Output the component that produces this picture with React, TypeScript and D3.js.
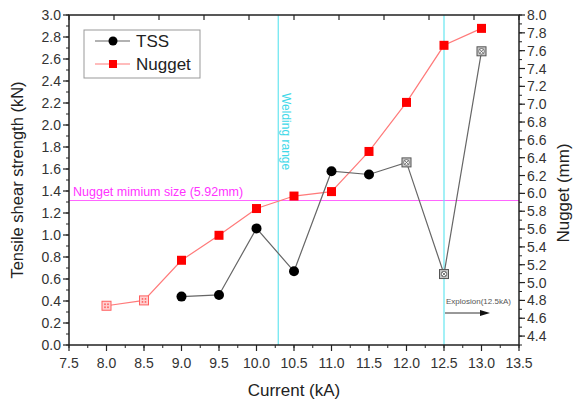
import React from "react";
import * as d3 from "d3";

const currents = [8.0, 8.5, 9.0, 9.5, 10.0, 10.5, 11.0, 11.5, 12.0, 12.5, 13.0];
const nugget = [4.74, 4.8, 5.25, 5.53, 5.83, 5.97, 6.02, 6.47, 7.02, 7.66, 7.85];
const nuggetHatched = [true, true, false, false, false, false, false, false, false, false, false];
const tssCurrents = [9.0, 9.5, 10.0, 10.5, 11.0, 11.5, 12.0, 12.5, 13.0];
const tss = [0.44, 0.455, 1.06, 0.67, 1.58, 1.55, 1.66, 0.645, 2.67];
const tssCrossed = [false, false, false, false, false, false, true, true, true];
const xTicks = [7.5, 8.0, 8.5, 9.0, 9.5, 10.0, 10.5, 11.0, 11.5, 12.0, 12.5, 13.0, 13.5];
const leftTicks = [0, 0.2, 0.4, 0.6, 0.8, 1.0, 1.2, 1.4, 1.6, 1.8, 2.0, 2.2, 2.4, 2.6, 2.8, 3.0];
const rightTicks = [4.4, 4.6, 4.8, 5.0, 5.2, 5.4, 5.6, 5.8, 6.0, 6.2, 6.4, 6.6, 6.8, 7.0, 7.2, 7.4, 7.6, 7.8, 8.0];
const nuggetMin = 5.92;
const weldingStart = 10.29;
const explosion = 12.5;

const L = 69, R = 519, T = 15, B = 345;

export default function App() {
  const x = d3.scaleLinear().domain([7.5, 13.5]).range([L, R]);
  const yL = d3.scaleLinear().domain([0, 3.0]).range([B, T]);
  const yR = d3.scaleLinear().domain([4.3, 8.0]).range([B, T]);
  const font = "'Liberation Sans', Arial, sans-serif";
  const tickCol = "#333";

  const xMinor = d3.range(7.5, 13.5001, 0.25);
  const lMinor = d3.range(0, 3.0001, 0.1);
  const rMinor = d3.range(4.3, 8.0001, 0.1);
  const topTicks = d3.range(0, 11).map((i) => 7.5 + i * 0.6);

  const tssLine = d3.line<number>().x((_, i) => x(tssCurrents[i])).y((d) => yL(d));
  const nugLine = d3.line<number>().x((_, i) => x(currents[i])).y((d) => yR(d));

  return (
    <svg width={573} height={403} style={{ position: "absolute", left: 0, top: 0, background: "#fff" }} fontFamily={font}>
      <rect x={0} y={0} width={573} height={403} fill="#fff" />
      {/* reference lines */}
      <line x1={L} x2={R} y1={yR(nuggetMin)} y2={yR(nuggetMin)} stroke="#ff66ff" strokeWidth={1.2} />
      <text x={L + 4} y={yR(nuggetMin) - 5} fontSize={12.5} fill="#ff33ff">Nugget mimium size (5.92mm)</text>
      <line x1={x(weldingStart)} x2={x(weldingStart)} y1={T} y2={B} stroke="#66e6f0" strokeWidth={1.2} />
      <line x1={x(explosion)} x2={x(explosion)} y1={T} y2={B} stroke="#66e6f0" strokeWidth={1.2} />
      <text transform={`translate(${x(weldingStart) + 4},${93}) rotate(90)`} fontSize={12} fill="#40d8e8">Welding range</text>
      <text x={x(explosion) + 2} y={304} fontSize={8} fill="#555">Explosion(12.5kA)</text>
      <line x1={x(explosion) + 1} x2={x(explosion) + 38} y1={313} y2={313} stroke="#333" strokeWidth={1} />
      <path d={`M${x(explosion) + 36},310 L${x(explosion) + 46},313 L${x(explosion) + 36},316 Z`} fill="#111" />

      {/* series lines */}
      <path d={nugLine(nugget) || ""} fill="none" stroke="#ff7a7a" strokeWidth={1.2} />
      <path d={tssLine(tss) || ""} fill="none" stroke="#666" strokeWidth={1.2} />

      {/* nugget markers */}
      {nugget.map((v, i) => {
        const cx = x(currents[i]), cy = yR(v);
        if (nuggetHatched[i]) {
          return (
            <g key={"n" + i}>
              <rect x={cx - 4.5} y={cy - 4.5} width={9} height={9} fill="#ffd0d0" stroke="#ff6060" strokeWidth={1} />
              <circle cx={cx - 1.5} cy={cy - 1.5} r={0.9} fill="#ff6060" />
              <circle cx={cx + 1.5} cy={cy - 1.5} r={0.9} fill="#ff6060" />
              <circle cx={cx - 1.5} cy={cy + 1.5} r={0.9} fill="#ff6060" />
              <circle cx={cx + 1.5} cy={cy + 1.5} r={0.9} fill="#ff6060" />
            </g>
          );
        }
        return <rect key={"n" + i} x={cx - 4.5} y={cy - 4.5} width={9} height={9} fill="#ff0000" />;
      })}
      {/* tss markers */}
      {tss.map((v, i) => {
        const cx = x(tssCurrents[i]), cy = yL(v);
        if (tssCrossed[i]) {
          return (
            <g key={"t" + i}>
              <rect x={cx - 4.5} y={cy - 4.5} width={9} height={9} fill="#c8c8c8" stroke="#555" strokeWidth={1} />
              <circle cx={cx} cy={cy} r={2.8} fill="#fff" stroke="#555" strokeWidth={0.8} />
              <line x1={cx - 1.8} y1={cy - 1.8} x2={cx + 1.8} y2={cy + 1.8} stroke="#555" strokeWidth={0.8} />
              <line x1={cx - 1.8} y1={cy + 1.8} x2={cx + 1.8} y2={cy - 1.8} stroke="#555" strokeWidth={0.8} />
            </g>
          );
        }
        return <circle key={"t" + i} cx={cx} cy={cy} r={5} fill="#000" />;
      })}

      {/* frame */}
      <rect x={L} y={T} width={R - L} height={B - T} fill="none" stroke="#222" strokeWidth={1.5} />

      {/* bottom axis */}
      {xMinor.map((v, i) => (
        <line key={"xm" + i} x1={x(v)} x2={x(v)} y1={B} y2={B + 3} stroke="#222" strokeWidth={1} />
      ))}
      {xTicks.map((v) => (
        <g key={"x" + v}>
          <line x1={x(v)} x2={x(v)} y1={B} y2={B + 6} stroke="#222" strokeWidth={1.2} />
          <text x={x(v)} y={B + 23} textAnchor="middle" fontSize={14} fill={tickCol}>{v.toFixed(1)}</text>
        </g>
      ))}
      {/* top ticks */}
      {topTicks.map((v, i) => (
        <line key={"tt" + i} x1={x(v)} x2={x(v)} y1={T} y2={T + 5} stroke="#222" strokeWidth={1.2} />
      ))}
      {/* left axis */}
      {lMinor.map((v, i) => (
        <line key={"lm" + i} x1={L - 3} x2={L} y1={yL(v)} y2={yL(v)} stroke="#222" strokeWidth={1} />
      ))}
      {leftTicks.map((v) => (
        <g key={"l" + v}>
          <line x1={L - 6} x2={L} y1={yL(v)} y2={yL(v)} stroke="#222" strokeWidth={1.2} />
          <text x={L - 8} y={yL(v) + 5} textAnchor="end" fontSize={14} fill={tickCol}>{v.toFixed(1)}</text>
        </g>
      ))}
      {/* right axis */}
      {rMinor.map((v, i) => (
        <line key={"rm" + i} x1={R} x2={R + 3} y1={yR(v)} y2={yR(v)} stroke="#222" strokeWidth={1} />
      ))}
      {rightTicks.map((v) => (
        <g key={"r" + v}>
          <line x1={R} x2={R + 6} y1={yR(v)} y2={yR(v)} stroke="#222" strokeWidth={1.2} />
          <text x={R + 8} y={yR(v) + 5} textAnchor="start" fontSize={14} fill={tickCol}>{v.toFixed(1)}</text>
        </g>
      ))}

      {/* axis titles */}
      <text x={(L + R) / 2} y={396} textAnchor="middle" fontSize={17} fill="#222">Current (kA)</text>
      <text transform={`translate(23,${(T + B) / 2}) rotate(-90)`} textAnchor="middle" fontSize={16.5} fill="#222">Tensile shear strength (kN)</text>
      <text transform={`translate(569,193) rotate(-90)`} textAnchor="middle" fontSize={17} fill="#222">Nugget (mm)</text>

      {/* legend */}
      <rect x={84} y={30} width={116} height={48} fill="#fff" stroke="#999" strokeWidth={1} />
      <line x1={95} x2={130} y1={41} y2={41} stroke="#666" strokeWidth={1.2} />
      <circle cx={113} cy={41} r={4.5} fill="#000" />
      <text x={136} y={47} fontSize={17} fill="#222">TSS</text>
      <line x1={95} x2={130} y1={64} y2={64} stroke="#ff7a7a" strokeWidth={1.2} />
      <rect x={109} y={60} width={8} height={8} fill="#ff0000" />
      <text x={136} y={70} fontSize={17} fill="#222">Nugget</text>
    </svg>
  );
}
